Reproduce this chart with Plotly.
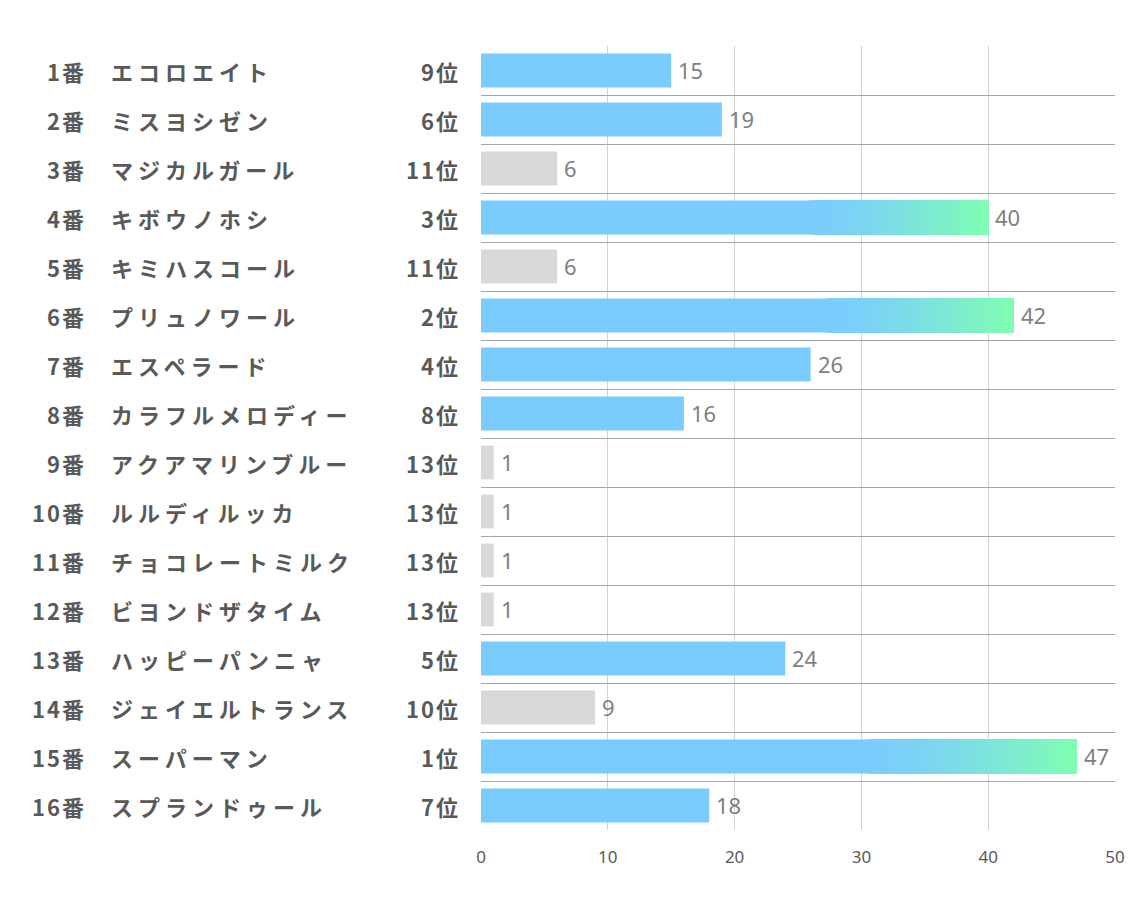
import plotly.graph_objects as go

numbers = ["1番", "2番", "3番", "4番", "5番", "6番", "7番", "8番", "9番", "10番",
           "11番", "12番", "13番", "14番", "15番", "16番"]
names = ["エコロエイト", "ミスヨシゼン", "マジカルガール", "キボウノホシ", "キミハスコール",
         "プリュノワール", "エスペラード", "カラフルメロディー", "アクアマリンブルー", "ルルディルッカ",
         "チョコレートミルク", "ビヨンドザタイム", "ハッピーパンニャ", "ジェイエルトランス", "スーパーマン",
         "スプランドゥール"]
ranks = [9, 6, 11, 3, 11, 2, 4, 8, 13, 13, 13, 13, 5, 10, 1, 7]
values = [15, 19, 6, 40, 6, 42, 26, 16, 1, 1, 1, 1, 24, 9, 47, 18]
x_ticks = [0, 10, 20, 30, 40, 50]

BLUE = (122, 204, 255)
GREEN = (128, 255, 178)
GRAY = "#D9D9D9"

ys = list(range(len(values)))
colors = ["rgb(%d,%d,%d)" % BLUE if r <= 9 else GRAY for r in ranks]

fig = go.Figure()
fig.add_trace(go.Bar(
    y=ys, x=values, orientation="h", width=0.69,
    marker=dict(color=colors, line=dict(width=0)),
    hoverinfo="skip",
))

# gradient overlay for the top three (starts with the plain bar colour)
N = 60
start_frac = 0.64
gy, gbase, gx, gc = [], [], [], []
for i, (v, r) in enumerate(zip(values, ranks)):
    if r <= 3:
        s = v * start_frac
        for k in range(1, N):
            t = (k / (N - 1)) ** 1.4
            b = s + (v - s) * k / N
            col = tuple(round(BLUE[j] + (GREEN[j] - BLUE[j]) * t) for j in range(3))
            gy.append(i)
            gbase.append(b)
            gx.append(v - b)
            gc.append("rgb(%d,%d,%d)" % col)
fig.add_trace(go.Bar(
    y=gy, x=gx, base=gbase, orientation="h", width=0.69,
    marker=dict(color=gc, line=dict(width=0)), hoverinfo="skip",
))

W, H = 1134, 907
L, T, R, B = 481, 46, 19, 77
pw = W - L - R


def px_to_paper(px):
    return (px - L) / pw


label_font = dict(family="Noto Sans CJK JP", size=22, color="#595959", weight="bold")
value_font = dict(family="Noto Sans", size=22, color="#7F7F7F")
annotations = []
for i in ys:
    annotations.append(dict(x=px_to_paper(86), y=i, xref="paper", yref="y", text=numbers[i],
                            xanchor="right", showarrow=False, font=label_font))
    annotations.append(dict(x=px_to_paper(109), y=i, xref="paper", yref="y", text=names[i],
                            xanchor="left", showarrow=False, font=label_font))
    annotations.append(dict(x=px_to_paper(460), y=i, xref="paper", yref="y", text="%d位" % ranks[i],
                            xanchor="right", showarrow=False, font=label_font))
    annotations.append(dict(x=values[i], y=i, xref="x", yref="y", text=str(values[i]),
                            xanchor="left", xshift=5, yshift=1, showarrow=False, font=value_font))

fig.update_layout(
    width=W, height=H,
    margin=dict(l=L, r=R, t=T, b=B, autoexpand=False),
    barmode="overlay",
    showlegend=False,
    plot_bgcolor="white", paper_bgcolor="white",
    annotations=annotations,
    xaxis=dict(range=[0, 50], tickvals=x_ticks, showgrid=True, gridcolor="#D3D3D3", gridwidth=1,
               zeroline=False, showline=False, ticks="", automargin=False,
               tickfont=dict(family="Noto Sans", size=17, color="#595959"),
               ticklabelstandoff=15, fixedrange=True),
    yaxis=dict(range=[len(values) - 0.5, -0.5], tickvals=[i - 0.5 for i in range(len(values) + 1)],
               showticklabels=False, showgrid=True, gridcolor="#A6A6A6", gridwidth=1,
               zeroline=False, showline=False, ticks="", automargin=False, fixedrange=True),
)

# remove page margin; widen letter spacing of the left-hand labels
post = """
document.body.style.margin = '0';
document.body.style.overflow = 'hidden';
var gd = document.getElementById('{plot_id}');
gd.querySelectorAll('.annotation-text').forEach(function(e){
  var t = e.textContent;
  if (/^[0-9]+$/.test(t)) return;
  var right = (t.indexOf('番') >= 0 || t.indexOf('位') >= 0);
  var b0 = e.getBBox();
  e.style.letterSpacing = right ? '2px' : '5px';
  var b1 = e.getBBox();
  var x = parseFloat(e.getAttribute('x') || '0');
  var dx = right ? ((b0.x + b0.width) - (b1.x + b1.width) + 2) : (b0.x - b1.x);
  e.setAttribute('x', x + dx);
});
"""

fig.write_html("out.html", post_script=post, config={"displayModeBar": False})
